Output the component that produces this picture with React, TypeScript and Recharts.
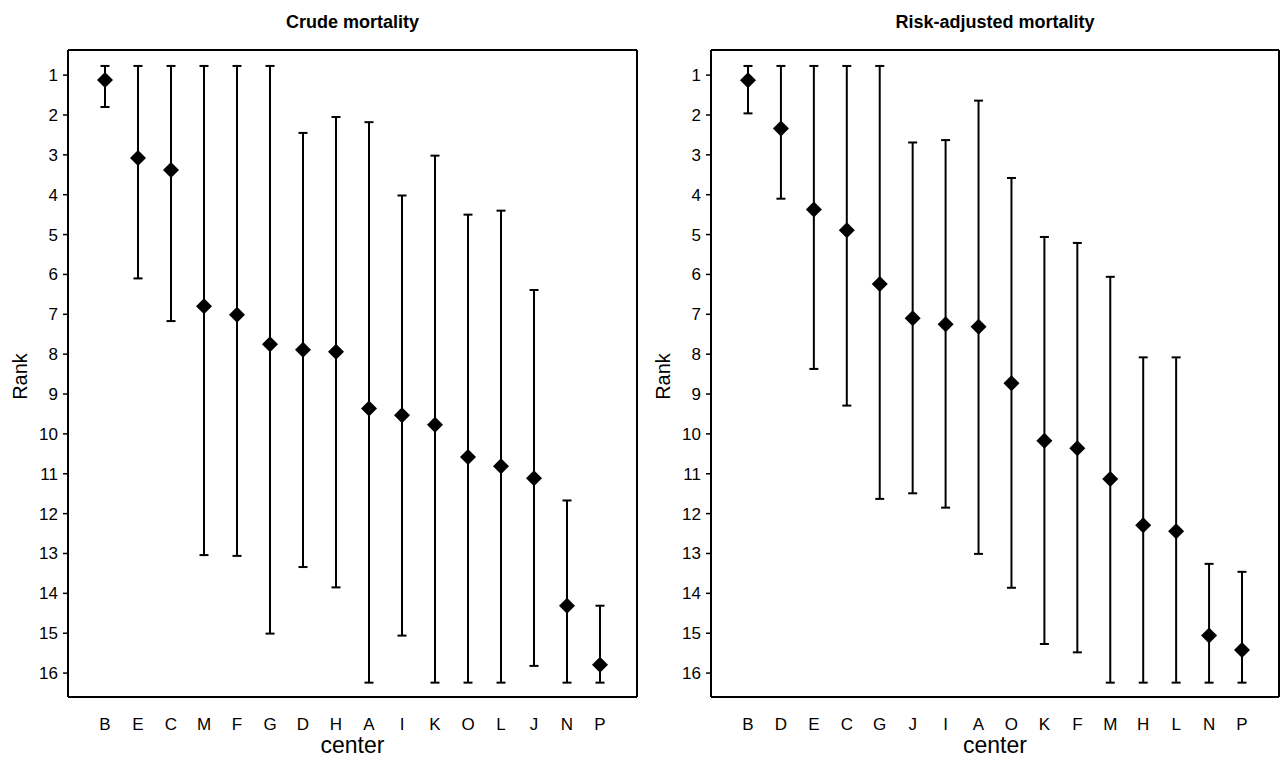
import React from "react";
import { ComposedChart, Scatter, ErrorBar, XAxis, YAxis } from "recharts";

// crude mortality, centers in ranked order
const crudeCenters = ["B", "E", "C", "M", "F", "G", "D", "H", "A", "I", "K", "O", "L", "J", "N", "P"];
const crudeRank = [1.12, 3.08, 3.38, 6.8, 7.01, 7.75, 7.89, 7.94, 9.36, 9.53, 9.77, 10.58, 10.81, 11.11, 14.31, 15.79];
const crudeUpper = [0.77, 0.77, 0.77, 0.77, 0.77, 0.77, 2.45, 2.05, 2.18, 4.02, 3.02, 4.5, 4.4, 6.39, 11.67, 14.31];
const crudeLower = [1.8, 6.1, 7.17, 13.04, 13.06, 15.01, 13.34, 13.85, 16.24, 15.06, 16.24, 16.24, 16.24, 15.82, 16.24, 16.24];

// risk-adjusted mortality
const adjCenters = ["B", "D", "E", "C", "G", "J", "I", "A", "O", "K", "F", "M", "H", "L", "N", "P"];
const adjRank = [1.13, 2.34, 4.37, 4.89, 6.24, 7.1, 7.25, 7.31, 8.73, 10.17, 10.36, 11.13, 12.29, 12.44, 15.06, 15.42];
const adjUpper = [0.77, 0.77, 0.77, 0.77, 0.77, 2.69, 2.63, 1.64, 3.58, 5.06, 5.21, 6.06, 8.08, 8.08, 13.26, 13.46];
const adjLower = [1.96, 4.1, 8.37, 9.29, 11.63, 11.49, 11.85, 13.01, 13.86, 15.27, 15.48, 16.24, 16.24, 16.24, 16.24, 16.24];

const rankTicks = [1, 2, 3, 4, 5, 6, 7, 8, 9, 10, 11, 12, 13, 14, 15, 16];
const rankDomain = [0.37, 16.6];

const FONT = "Liberation Sans, Arial, sans-serif";
const TICK_SIZE = 17;

function buildRows(centers: string[], rank: number[], upper: number[], lower: number[]) {
  return centers.map((c, i) => ({
    center: c,
    rank: rank[i],
    err: [rank[i] - upper[i], lower[i] - rank[i]],
  }));
}

const Diamond = (props: any) => {
  const { cx, cy } = props;
  const r = 8;
  return (
    <polygon
      points={`${cx},${cy - r} ${cx + r},${cy} ${cx},${cy + r} ${cx - r},${cy}`}
      fill="#000"
    />
  );
};

// invisible series so the top/right frame axes get drawn
const Nothing = () => <g />;

const XTick = (p: any) => (
  <text
    x={p.x}
    y={p.y + 13}
    textAnchor="middle"
    fontFamily={FONT}
    fontSize={TICK_SIZE}
    fill="#000"
  >
    {p.payload.value}
  </text>
);

const YTick = (p: any) => (
  <text
    x={p.x}
    y={p.y + 6}
    textAnchor="end"
    fontFamily={FONT}
    fontSize={TICK_SIZE}
    fill="#000"
  >
    {p.payload.value}
  </text>
);

function RankPanel({
  title,
  rows,
  yWidth,
  rightMargin,
  rankX,
}: {
  title: string;
  rows: any[];
  yWidth: number;
  rightMargin: number;
  rankX: number;
}) {
  const TitleLabel = (p: any) => {
    const vb = p.viewBox;
    return (
      <text
        x={vb.x + vb.width / 2}
        y={28}
        textAnchor="middle"
        fontFamily={FONT}
        fontWeight="bold"
        fontSize={18}
        fill="#000"
      >
        {title}
      </text>
    );
  };
  const RankLabel = (p: any) => {
    const vb = p.viewBox;
    const y = vb.y + vb.height / 2 + 3;
    return (
      <text
        x={rankX}
        y={y}
        transform={`rotate(-90, ${rankX}, ${y})`}
        textAnchor="middle"
        fontFamily={FONT}
        fontSize={20}
        fill="#000"
      >
        Rank
      </text>
    );
  };
  const CenterLabel = (p: any) => {
    const vb = p.viewBox;
    return (
      <text
        x={vb.x + vb.width / 2}
        y={vb.y + 56}
        textAnchor="middle"
        fontFamily={FONT}
        fontSize={23}
        fill="#000"
      >
        center
      </text>
    );
  };

  return (
    <ComposedChart
      width={640}
      height={760}
      data={rows}
      margin={{ top: 49, right: rightMargin - 1, bottom: 0, left: 0 }}
    >
      <XAxis
        dataKey="center"
        type="category"
        padding={{ left: 37, right: 37 }}
        height={63}
        tickSize={0}
        tickMargin={20}
        tickLine={false}
        axisLine={{ stroke: "#000", strokeWidth: 2 }}
        tick={<XTick />}
        interval={0}
        label={<CenterLabel />}
      />
      <XAxis
        xAxisId="top"
        orientation="top"
        dataKey="center"
        height={1}
        tick={false}
        tickLine={false}
        axisLine={{ stroke: "#000", strokeWidth: 2 }}
        label={<TitleLabel />}
      />
      <YAxis
        type="number"
        domain={rankDomain}
        reversed
        ticks={rankTicks}
        interval={0}
        width={yWidth}
        tickSize={5}
        tickMargin={5}
        tickLine={{ stroke: "#000", strokeWidth: 1.5 }}
        axisLine={{ stroke: "#000", strokeWidth: 2 }}
        tick={<YTick />}
        allowDataOverflow
        label={<RankLabel />}
      />
      <YAxis
        yAxisId="right"
        orientation="right"
        type="number"
        width={1}
        domain={rankDomain}
        reversed
        tick={false}
        tickLine={false}
        axisLine={{ stroke: "#000", strokeWidth: 2 }}
      />
      <Scatter
        dataKey="rank"
        xAxisId="top"
        yAxisId="right"
        shape={<Nothing />}
        legendType="none"
        isAnimationActive={false}
      />
      <Scatter dataKey="rank" shape={<Diamond />} isAnimationActive={false}>
        <ErrorBar
          dataKey="err"
          direction="y"
          width={4.5}
          stroke="#000"
          strokeWidth={2}
          isAnimationActive={false}
        />
      </Scatter>
    </ComposedChart>
  );
}

export default function App() {
  const crudeRows = buildRows(crudeCenters, crudeRank, crudeUpper, crudeLower);
  const adjRows = buildRows(adjCenters, adjRank, adjUpper, adjLower);
  return (
    <div
      style={{
        position: "absolute",
        left: 0,
        top: 0,
        width: 1280,
        height: 760,
        background: "#fff",
        display: "flex",
      }}
    >
      <RankPanel title="Crude mortality" rows={crudeRows} yWidth={68} rightMargin={3} rankX={27} />
      <RankPanel title="Risk-adjusted mortality" rows={adjRows} yWidth={71} rightMargin={1} rankX={30} />
    </div>
  );
}
